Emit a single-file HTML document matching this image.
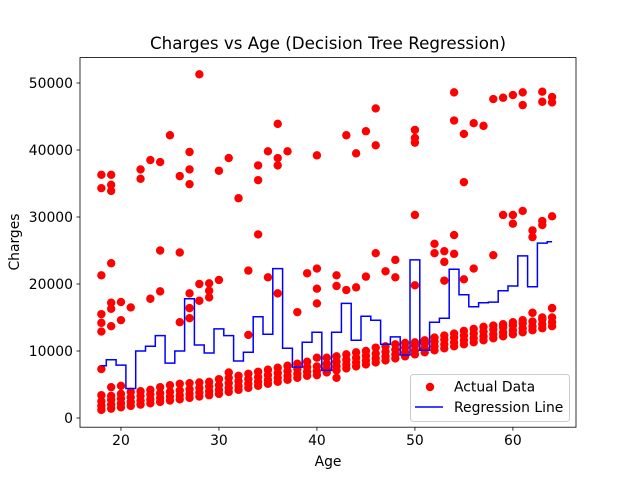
<!DOCTYPE html>
<html><head><meta charset="utf-8"><style>
html,body{margin:0;padding:0;background:#fff;}
svg text{font-family:"DejaVu Sans","Liberation Sans",sans-serif;fill:#000;}
</style></head><body>
<svg id="chart" width="640" height="480" xmlns="http://www.w3.org/2000/svg">
<rect width="640" height="480" fill="#fff"/>
<g id="marks"></g>
<g id="axes"></g>
</svg>
<script>
const xTicks=[20,30,40,50,60];
const yTicks=[0,10000,20000,30000,40000,50000];
const yTickLabels=["0","10000","20000","30000","40000","50000"];
// bottom band: ages and charges (4 per age)
const bandAges=[18,19,20,21,22,23,24,25,26,27,28,29,30,31,32,33,34,35,36,37,38,39,40,41,42,43,44,45,46,47,48,49,50,51,52,53,54,55,56,57,58,59,60,61,62,63,64];
const bandLow=[1200,1400,1600,1800,2000,2200,2400,2600,2800,3000,3200,3400,3600,3900,4200,4500,4800,5100,5400,5700,6000,6300,6400,6800,7100,7400,7700,8000,8300,8600,8900,9200,9500,9800,10100,10400,10700,11000,11300,11600,11900,12200,12500,12800,13100,13400,13700];
const bandMid1=[1800,2000,2200,2400,2600,2800,3000,3200,3400,3600,3800,4000,4200,4500,4800,5100,5400,5700,6000,6300,6600,6900,7000,7400,7700,8000,8300,8600,8900,9200,9500,9800,10100,10400,10700,11000,11300,11600,11900,12200,12500,12800,13100,13400,13700,14000,14300];
const bandMid2=[2500,2700,2900,3100,3300,3500,3700,3900,4100,4300,4500,4700,4900,5200,5500,5800,6100,6400,6700,7000,7300,7600,7700,8100,8400,8700,9000,9300,9600,9900,10200,10500,10800,11100,11400,11700,12000,12300,12600,12900,13200,13500,13800,14100,14400,14700,15000];
const bandHigh=[3400,3300,3600,3900,4000,4200,4600,4900,5100,5200,5300,5400,5800,6000,6300,6600,6900,7200,7500,7800,8100,8400,9000,9000,9200,9500,9800,10000,10500,10700,11000,11200,11300,11600,12000,12300,12600,13000,13300,13600,13800,14000,14300,14600,15700,15000,16400];
// other points (smokers / outliers)
const extraAges=[28,36,25,27,35,37,36,36,40,23,24,31,30,22,22,27,27,26,34,34,18,18,19,19,19,32,34,24,26,19,18,33,35,36,38,39,40,40,40,30,29,29,29,28,28,27,27,27,26,23,24,20,20,21,19,19,19,18,18,18,33,18,19,20,31,54,58,59,60,61,61,63,63,64,64,46,43,45,44,46,50,50,50,54,55,56,57,55,50,59,60,60,61,62,62,63,63,64,54,52,52,53,53,54,53,55,56,58,50,48,48,47,46,45,43,44,42,42,62,64,51,42];
const extraCharges=[51300,43900,42200,39700,39800,39800,38800,37700,39200,38500,38200,38800,36900,37100,35700,37100,34900,36100,37700,35500,36300,34300,36300,34800,33900,32800,27400,25000,24700,23100,21300,22000,21000,18600,15800,21600,22300,19300,17100,20600,20100,19000,18000,20000,17500,18600,16400,14900,14300,17800,18900,17300,14600,16500,17200,16300,13700,15500,14200,12900,12400,7300,4600,4800,6800,48600,47600,47800,48200,48600,46700,48700,47200,47900,47100,46200,42200,42800,39500,40700,43000,41800,41100,44400,42400,44000,43600,35200,30300,30300,30300,29000,30900,28000,27000,29400,28800,30100,27300,26000,24600,24900,23300,24500,20500,20700,22300,24300,19800,23600,21000,21900,24600,21100,19100,19500,21300,19700,15700,16400,11300,6000];
// regression step line
const regAges=[18,19,20,21,22,23,24,25,26,27,28,29,30,31,32,33,34,35,36,37,38,39,40,41,42,43,44,45,46,47,48,49,50,51,52,53,54,55,56,57,58,59,60,61,62,63,64];
const regValues=[7800,8700,7900,4400,10000,10700,12300,8200,10000,17800,10900,9700,13300,12300,8500,9800,15100,12500,22300,10400,7600,11300,12800,7100,12800,17100,11600,15200,14600,11000,12100,9400,23600,10100,14300,14900,22200,18400,16600,17200,17300,19000,19700,24200,19600,26100,26300];

const X0=80,X1=576,Y0=57.6,Y1=427.2,xmin=15.82,xmax=66.44,ymin=-1373,ymax=53790;
const sx=v=>X0+(v-xmin)/(xmax-xmin)*(X1-X0);
const sy=v=>Y1-(v-ymin)/(ymax-ymin)*(Y1-Y0);
const NS="http://www.w3.org/2000/svg";
const marks=document.getElementById('marks');
const axes=document.getElementById('axes');
function mk(tag,attrs,parent){const e=document.createElementNS(NS,tag);for(const k in attrs)e.setAttribute(k,attrs[k]);parent.appendChild(e);return e;}

function dot(a,v){
  const c=mk('circle',{cx:sx(a),cy:sy(v),r:4.2,fill:'#ff0000'},marks);
  
  
}
[bandLow,bandMid1,bandMid2,bandHigh].forEach(arr=>arr.forEach((v,i)=>dot(bandAges[i],v)));
extraCharges.forEach((v,i)=>dot(extraAges[i],v));

let d='';
regAges.forEach((a,i)=>{
  const xs=i===0?a:(regAges[i-1]+a)/2;
  const xe=i===regAges.length-1?a:(a+regAges[i+1])/2;
  d+=(i===0?'M':'L')+sx(xs).toFixed(1)+','+sy(regValues[i]).toFixed(1)+'L'+sx(xe).toFixed(1)+','+sy(regValues[i]).toFixed(1);
});
const line=mk('path',{d:d,fill:'none',stroke:'#0000ff','stroke-width':1.5},marks);



const frame=mk('rect',{x:X0,y:Y0,width:X1-X0,height:Y1-Y0,fill:'none',stroke:'#000','stroke-width':0.8},axes);


xTicks.forEach(t=>{
  mk('line',{x1:sx(t),x2:sx(t),y1:Y1,y2:Y1+3.5,stroke:'#000','stroke-width':0.8},axes);
  const tx=mk('text',{x:sx(t),y:Y1+18,'font-size':'13.9','text-anchor':'middle'},axes);
  tx.textContent=t;
  
  
});
yTicks.forEach((t,i)=>{
  mk('line',{x1:X0-3.5,x2:X0,y1:sy(t),y2:sy(t),stroke:'#000','stroke-width':0.8},axes);
  const tx=mk('text',{x:X0-7,y:sy(t)+5,'font-size':'13.9','text-anchor':'end'},axes);
  tx.textContent=yTickLabels[i];
  
  
});
</script>
<svg style="position:absolute;left:0;top:0" width="640" height="480" xmlns="http://www.w3.org/2000/svg">
<text x="328" y="49" font-size="16.7" text-anchor="middle">Charges vs Age (Decision Tree Regression)</text>
<text x="328" y="466" font-size="13.9" text-anchor="middle">Age</text>
<text x="0" y="0" font-size="13.9" text-anchor="middle" transform="translate(19,242) rotate(-90)">Charges</text>
<g>
<rect x="410.5" y="374.5" width="159" height="47" rx="3" fill="#fff" fill-opacity="0.8" stroke="#ccc" stroke-width="1"/>
<circle cx="430" cy="387" r="4.2" fill="#ff0000"/>
<text x="454" y="391.5" font-size="13.9">Actual Data</text>
<line x1="415" y1="407" x2="443" y2="407" stroke="#0000ff" stroke-width="1.5"/>
<text x="454" y="412" font-size="13.9">Regression Line</text>
</g>
</svg>
<style>body{position:relative;width:640px;height:480px;overflow:hidden}#chart{position:absolute;left:0;top:0}</style>
</body></html>
